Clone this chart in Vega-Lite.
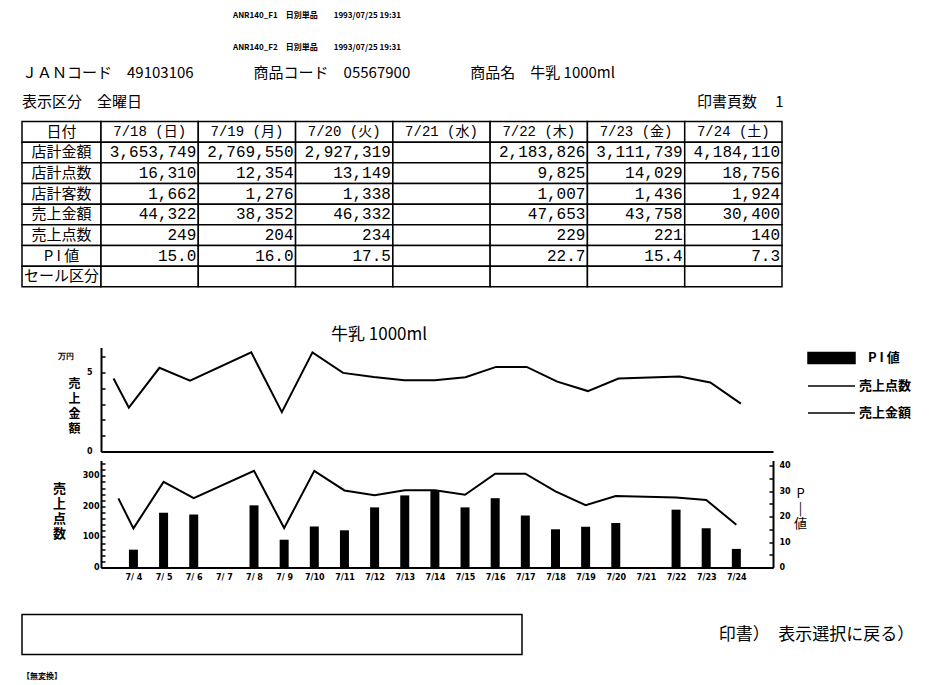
{
  "$schema": "https://vega.github.io/schema/vega-lite/v6.json",
  "background": "white",
  "padding": {"left": 21, "top": 11.5, "right": 5, "bottom": 5},
  "title": {
    "text": ["ANR140_F1　日別単品　　1993/07/25 19:31", "　　　　　　　　　　　　　　　　　ANR140_F2　日別単品　　1993/07/25 19:31"],
    "anchor": "start", "frame": "group", "dx": 211, "fontSize": 8, "fontWeight": "bold",
    "font": "Noto Sans CJK JP", "lineHeight": 32, "offset": 14, "color": "black"
  },
  "datasets": {
    "trend": [
      {"day": 3.5, "amt": 4.63, "pts": 226, "pi": null},
      {"day": 4, "amt": 2.78, "pts": 128, "pi": 7.0},
      {"day": 5, "amt": 5.31, "pts": 280, "pi": 21.5},
      {"day": 6, "amt": 4.5, "pts": 227, "pi": 20.8},
      {"day": 8, "amt": 6.29, "pts": 316, "pi": 24.4},
      {"day": 9, "amt": 2.5, "pts": 129, "pi": 10.9},
      {"day": 10, "amt": 6.29, "pts": 316, "pi": 16.1},
      {"day": 11, "amt": 4.99, "pts": 252, "pi": 14.6},
      {"day": 12, "amt": 4.73, "pts": 236, "pi": 23.6},
      {"day": 13, "amt": 4.52, "pts": 253, "pi": 28.3},
      {"day": 14, "amt": 4.52, "pts": 253, "pi": 30.0},
      {"day": 15, "amt": 4.71, "pts": 238, "pi": 23.6},
      {"day": 16, "amt": 5.37, "pts": 307, "pi": 27.2},
      {"day": 17, "amt": 5.37, "pts": 307, "pi": 20.4},
      {"day": 18, "amt": 4.4322, "pts": 249, "pi": 15.0},
      {"day": 19, "amt": 3.8352, "pts": 204, "pi": 16.0},
      {"day": 20, "amt": 4.6332, "pts": 234, "pi": 17.5},
      {"day": 22, "amt": 4.7653, "pts": 229, "pi": 22.7},
      {"day": 23, "amt": 4.3758, "pts": 221, "pi": 15.4},
      {"day": 24, "amt": 3.04, "pts": 140, "pi": 7.3}
    ],
    "table": [
      {"日付": "7/18 (日)", "店計金額": "3,653,749", "店計点数": "16,310", "店計客数": "1,662", "売上金額": "44,322", "売上点数": "249", "PI値": "15.0", "セール区分": ""},
      {"日付": "7/19 (月)", "店計金額": "2,769,550", "店計点数": "12,354", "店計客数": "1,276", "売上金額": "38,352", "売上点数": "204", "PI値": "16.0", "セール区分": ""},
      {"日付": "7/20 (火)", "店計金額": "2,927,319", "店計点数": "13,149", "店計客数": "1,338", "売上金額": "46,332", "売上点数": "234", "PI値": "17.5", "セール区分": ""},
      {"日付": "7/21 (水)", "店計金額": "", "店計点数": "", "店計客数": "", "売上金額": "", "売上点数": "", "PI値": "", "セール区分": ""},
      {"日付": "7/22 (木)", "店計金額": "2,183,826", "店計点数": "9,825", "店計客数": "1,007", "売上金額": "47,653", "売上点数": "229", "PI値": "22.7", "セール区分": ""},
      {"日付": "7/23 (金)", "店計金額": "3,111,739", "店計点数": "14,029", "店計客数": "1,436", "売上金額": "43,758", "売上点数": "221", "PI値": "15.4", "セール区分": ""},
      {"日付": "7/24 (土)", "店計金額": "4,184,110", "店計点数": "18,756", "店計客数": "1,924", "売上金額": "30,400", "売上点数": "140", "PI値": "7.3", "セール区分": ""}
    ],
    "rows": [
      {"row": "日付", "label": "日付"},
      {"row": "店計金額", "label": "店計金額"},
      {"row": "店計点数", "label": "店計点数"},
      {"row": "店計客数", "label": "店計客数"},
      {"row": "売上金額", "label": "売上金額"},
      {"row": "売上点数", "label": "売上点数"},
      {"row": "PI値", "label": "P I 値"},
      {"row": "セール区分", "label": "セール区分"}
    ]
  },
  "vconcat": [
    {
      "columns": 2,
      "spacing": {"row": 60, "column": 0},
      "bounds": "flush",
      "title": {
        "text": ["ＪＡＮコード　49103106　　　　商品コード　05567900　　　　商品名　牛乳 1000ml", "表示区分　全曜日　　　　　　　　　　　　　　　　　　　　　　　　　　　　　　　　　　　　　印書頁数　\u00a01"],
        "anchor": "start", "frame": "group", "dx": 0, "fontSize": 15, "fontWeight": "normal",
        "font": "Noto Sans CJK JP", "lineHeight": 29, "offset": 11, "color": "black"
      },
      "resolve": {"scale": {"color": "independent"}, "legend": {"color": "independent"}},
      "concat": [
        {
          "width": 79, "height": 165.3,
          "data": {"name": "rows"},
          "layer": [
            {
              "mark": {"type": "rect", "fill": "white", "stroke": "black", "strokeWidth": 1.5},
              "encoding": {
                "y": {"field": "row", "type": "nominal", "sort": null, "scale": {"type": "band", "paddingInner": 0, "paddingOuter": 0}, "axis": null}
              }
            },
            {
              "mark": {"type": "text", "fontSize": 15, "font": "Noto Sans CJK JP", "color": "black"},
              "encoding": {
                "y": {"field": "row", "type": "nominal", "sort": null, "scale": {"type": "band", "paddingInner": 0, "paddingOuter": 0}, "axis": null},
                "text": {"field": "label"}
              }
            }
          ]
        },
        {
          "width": 681, "height": 165.3,
          "data": {"name": "table"},
          "transform": [
            {"fold": ["日付", "店計金額", "店計点数", "店計客数", "売上金額", "売上点数", "PI値", "セール区分"], "as": ["key", "val"]}
          ],
          "layer": [
            {
              "mark": {"type": "rect", "fill": "white", "stroke": "black", "strokeWidth": 1.5},
              "encoding": {
                "x": {"field": "日付", "type": "nominal", "sort": null, "scale": {"type": "band", "paddingInner": 0, "paddingOuter": 0}, "axis": null},
                "y": {"field": "key", "type": "nominal", "sort": ["日付", "店計金額", "店計点数", "店計客数", "売上金額", "売上点数", "PI値", "セール区分"], "scale": {"type": "band", "paddingInner": 0, "paddingOuter": 0}, "axis": null}
              }
            },
            {
              "transform": [{"filter": "datum.key == '日付'"}],
              "mark": {"type": "text", "fontSize": 14, "font": "Liberation Mono, Noto Sans CJK JP", "color": "black"},
              "encoding": {
                "x": {"field": "日付", "type": "nominal", "sort": null, "scale": {"type": "band", "paddingInner": 0, "paddingOuter": 0}, "axis": null},
                "y": {"field": "key", "type": "nominal", "sort": ["日付", "店計金額", "店計点数", "店計客数", "売上金額", "売上点数", "PI値", "セール区分"], "scale": {"type": "band", "paddingInner": 0, "paddingOuter": 0}, "axis": null},
                "text": {"field": "val"}
              }
            },
            {
              "transform": [{"filter": "datum.key != '日付'"}],
              "mark": {"type": "text", "fontSize": 16, "font": "Liberation Mono", "align": "right", "dx": -2, "color": "black"},
              "encoding": {
                "x": {"field": "日付", "type": "nominal", "sort": null, "bandPosition": 1, "scale": {"type": "band", "paddingInner": 0, "paddingOuter": 0}, "axis": null},
                "y": {"field": "key", "type": "nominal", "sort": ["日付", "店計金額", "店計点数", "店計客数", "売上金額", "売上点数", "PI値", "セール区分"], "scale": {"type": "band", "paddingInner": 0, "paddingOuter": 0}, "axis": null},
                "text": {"field": "val"}
              }
            }
          ]
        },
        {
          "width": 79, "height": 10,
          "data": {"values": []},
          "mark": "text"
        },
        {
          "vconcat": [
            {
              "width": 672, "height": 104,
              "data": {"name": "trend"},
              "transform": [{"filter": "isValid(datum.amt)"}],
              "mark": {"type": "line", "strokeWidth": 2, "clip": true},
              "encoding": {
                "x": {"field": "day", "type": "quantitative", "scale": {"domain": [3.09, 25.05], "nice": false, "zero": false}, "axis": {"labels": false, "ticks": false, "title": null}},
                "y": {
                  "field": "amt", "type": "quantitative", "scale": {"domain": [0, 6.6], "nice": false},
                  "axis": {
                    "values": [0, 1, 2, 3, 4, 5, 6], "labelExpr": "datum.value == 0 || datum.value == 5 ? datum.label : datum.value == 6 ? '万円' : ''",
                    "tickSize": -4,
                    "labelPadding": {"condition": {"test": "datum.value == 6", "value": 32}, "value": 13},
                    "title": ["売", "上", "金", "額"], "titleAngle": 0, "titleX": -27, "titleY": 31,
                    "titleBaseline": "top", "titleAlign": "center", "titleLineHeight": 15, "titleFontSize": 12, "titleFontWeight": "bold", "titleFont": "Noto Sans CJK JP"
                  }
                },
                "color": {
                  "datum": "売上金額",
                  "scale": {"domain": ["PI値", "売上点数", "売上金額"], "range": ["black", "black", "black"]},
                  "legend": {
                    "orient": "none", "legendX": 706, "legendY": 2, "title": null,
                    "symbolSize": 225, "symbolStrokeWidth": 1.5,
                    "labelFontSize": 13, "labelFontWeight": "bold", "labelFont": "Noto Sans CJK JP", "labelColor": "black",
                    "labelOffset": 35, "rowPadding": 11,
                    "labelExpr": "datum.value == 'PI値' ? 'P I 値' : datum.value",
                    "encode": {
                      "symbols": {
                        "update": {
                          "shape": {"signal": "datum.value == 'PI値' ? 'M-1,-0.733H5.267V0.733H-1Z' : 'M-1,0H5.267'"},
                          "fill": {"signal": "datum.value == 'PI値' ? 'black' : 'transparent'"},
                          "stroke": {"value": "black"}
                        }
                      },
                      "labels": {
                        "update": {"dx": {"signal": "datum.value == 'PI値' ? 9 : 0"}}
                      }
                    }
                  }
                }
              }
            },
            {
              "width": 672, "height": 107,
              "data": {"name": "trend"},
              "layer": [
                {
                  "transform": [{"filter": "isValid(datum.pi)"}],
                  "mark": {"type": "bar", "color": "black", "size": 9},
                  "encoding": {
                    "x": {
                      "field": "day", "type": "quantitative", "scale": {"domain": [3.09, 25.05], "nice": false, "zero": false},
                      "axis": {
                        "values": [4, 5, 6, 7, 8, 9, 10, 11, 12, 13, 14, 15, 16, 17, 18, 19, 20, 21, 22, 23, 24],
                        "labelExpr": "'7/' + (datum.value < 10 ? ' ' + datum.value : datum.value)",
                        "ticks": false, "labelPadding": 6, "title": null, "labelFlush": false, "labelOverlap": false, "labelBound": false, "labelSeparation": 0
                      }
                    },
                    "y": {
                      "field": "pi", "type": "quantitative", "scale": {"domain": [0, 42], "nice": false},
                      "axis": {
                        "orient": "right", "values": [0, 5, 10, 15, 20, 25, 30, 35, 40],
                        "labelExpr": "datum.value % 10 == 0 ? datum.label : ''",
                        "tickSize": -4, "labelPadding": 10,
                        "title": ["P", "|", "値"], "titleAngle": 0, "titleX": 27, "titleY": 27,
                        "titleBaseline": "top", "titleAlign": "center", "titleLineHeight": 15, "titleFontSize": 13, "titleFontWeight": "normal", "titleFont": "Noto Sans CJK JP"
                      }
                    }
                  }
                },
                {
                  "transform": [{"filter": "isValid(datum.pts)"}],
                  "mark": {"type": "line", "color": "black", "strokeWidth": 2, "clip": true},
                  "encoding": {
                    "x": {
                      "field": "day", "type": "quantitative", "scale": {"domain": [3.09, 25.05], "nice": false, "zero": false},
                      "axis": {
                        "values": [4, 5, 6, 7, 8, 9, 10, 11, 12, 13, 14, 15, 16, 17, 18, 19, 20, 21, 22, 23, 24],
                        "labelExpr": "'7/' + (datum.value < 10 ? ' ' + datum.value : datum.value)",
                        "ticks": false, "labelPadding": 6, "title": null, "labelFlush": false, "labelOverlap": false, "labelBound": false, "labelSeparation": 0
                      }
                    },
                    "y": {
                      "field": "pts", "type": "quantitative", "scale": {"domain": [0, 350], "nice": false},
                      "axis": {
                        "orient": "left", "values": [0, 20, 40, 60, 80, 100, 120, 140, 160, 180, 200, 220, 240, 260, 280, 300, 320, 340],
                        "labelExpr": "datum.value % 100 == 0 ? datum.label : ''",
                        "tickSize": -4, "labelPadding": 6,
                        "title": ["売", "上", "点", "数"], "titleAngle": 0, "titleX": -42, "titleY": 22,
                        "titleBaseline": "top", "titleAlign": "center", "titleLineHeight": 15, "titleFontSize": 13, "titleFontWeight": "bold", "titleFont": "Noto Sans CJK JP"
                      }
                    }
                  }
                }
              ],
              "resolve": {"scale": {"y": "independent"}}
            }
          ],
          "spacing": 9,
          "bounds": "flush",
          "title": {"text": "牛乳 1000ml", "anchor": "start", "frame": "group", "dx": 230, "fontSize": 17, "fontWeight": "normal", "font": "Noto Sans CJK JP", "offset": 4, "color": "black"},
          "resolve": {"scale": {"color": "independent"}, "legend": {"color": "independent"}}
        }
      ]
    },
    {
      "hconcat": [
        {
          "width": 500, "height": 40,
          "data": {"values": []},
          "mark": "text",
          "view": {"stroke": "black", "strokeWidth": 1.5}
        },
        {
          "width": 229, "height": 40,
          "data": {"values": [{"b": "印書）　表示選択に戻る）"}]},
          "mark": {"type": "text", "fontSize": 17, "font": "Noto Sans CJK JP", "color": "black"},
          "encoding": {"text": {"field": "b"}}
        }
      ],
      "spacing": 180,
      "bounds": "flush",
      "title": {"text": "【無変換】", "orient": "bottom", "anchor": "start", "frame": "group", "fontSize": 8, "fontWeight": "bold", "font": "Noto Sans CJK JP", "offset": 18, "color": "black"}
    }
  ],
  "spacing": 32,
  "resolve": {"scale": {"color": "independent"}, "legend": {"color": "independent"}},
  "config": {
    "view": {"stroke": null},
    "font": "Noto Sans CJK JP",
    "axis": {
      "domainColor": "black", "domainWidth": 2, "tickColor": "black", "tickWidth": 1.5,
      "labelColor": "black", "labelFont": "DejaVu Sans", "labelFontWeight": "bold", "labelFontSize": 8,
      "grid": false, "titleColor": "black", "labelOverlap": false
    },
    "title": {"color": "black"}
  }
}
